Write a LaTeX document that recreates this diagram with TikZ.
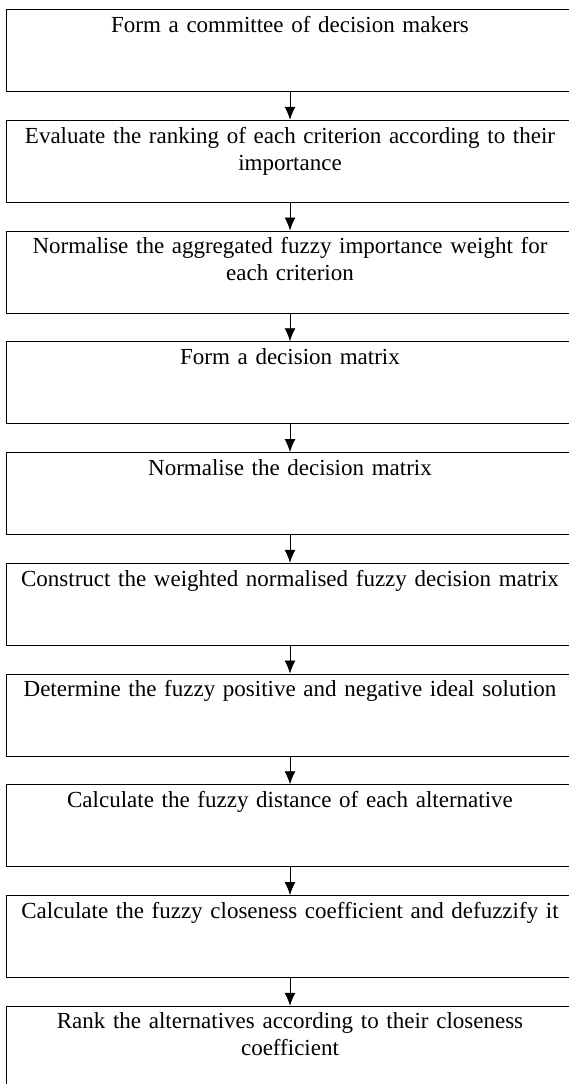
\documentclass[tikz,border=0pt]{standalone}
\usepackage{fontspec}
\setmainfont{Liberation Serif}
\usetikzlibrary{arrows.meta}
\tikzset{
 stepbox/.style={draw, line width=1.2pt, minimum width=567pt, minimum height=82pt, inner sep=0pt, anchor=north},
 steptext/.style={anchor=north, inner sep=0pt, align=center, text width=565pt, font=\fontsize{23}{27}\selectfont},
 flow/.style={line width=0.9pt, -{Latex[length=13pt,width=11pt]}}
}

\begin{document}
\begin{tikzpicture}[x=1pt,y=-1pt]
\useasboundingbox (0,0) rectangle (569,1084);
\clip (0,0) rectangle (569,1084);
\foreach \t [count=\i] in {
 {Form a committee of decision makers},
 {Evaluate the ranking of each criterion according to their\\importance},
 {Normalise the aggregated fuzzy importance weight for\\each criterion},
 {Form a decision matrix},
 {Normalise the decision matrix},
 {Construct the weighted normalised fuzzy decision matrix},
 {Determine the fuzzy positive and negative ideal solution},
 {Calculate the fuzzy distance of each alternative},
 {Calculate the fuzzy closeness coefficient and defuzzify it},
 {Rank the alternatives according to their closeness\\coefficient}} {
 \node[stepbox] (s\i) at (290,{9+(\i-1)*110.75}) {};
 \node[steptext] (t\i) at ([yshift=-7pt]s\i.north) {\t};
 }
\foreach \i [evaluate=\i as \j using int(\i+1)] in {1,...,9}
 \draw[flow] (s\i.south) -- (s\j.north);
\end{tikzpicture}
\end{document}
